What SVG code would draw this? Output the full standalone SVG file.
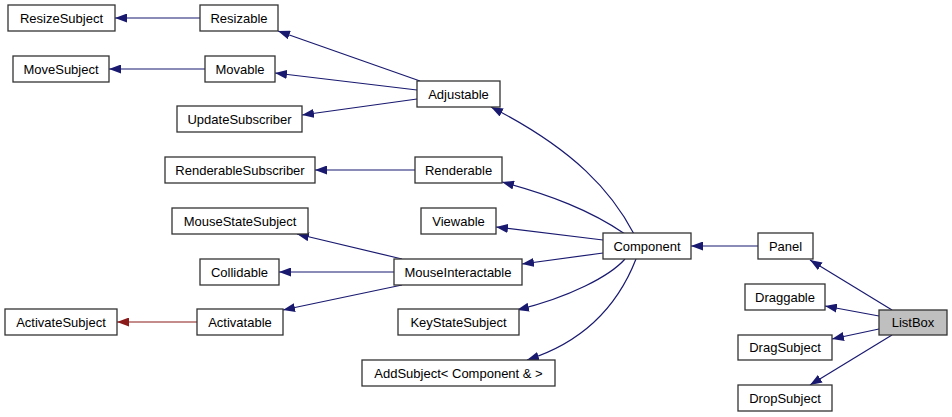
<svg xmlns="http://www.w3.org/2000/svg" width="952" height="417" viewBox="0 0 952 417">
<style>
.n rect{fill:#fff;stroke:#333;stroke-width:1.3}
.n text{font-family:"Liberation Sans",Arial,sans-serif;font-size:13px;fill:#000;text-anchor:middle}
.e path{fill:none;stroke:#191970;stroke-width:1.2;marker-end:url(#ab)}
.e path.r{stroke:#8b1a1a;marker-end:url(#ar)}
</style>
<defs>
<marker id="ab" viewBox="0 0 12 9" refX="12" refY="4.5" markerWidth="12" markerHeight="9" markerUnits="userSpaceOnUse" orient="auto"><path d="M0,0 L12,4.5 L0,9 z" fill="#191970"/></marker>
<marker id="ar" viewBox="0 0 12 9" refX="12" refY="4.5" markerWidth="12" markerHeight="9" markerUnits="userSpaceOnUse" orient="auto"><path d="M0,0 L12,4.5 L0,9 z" fill="#8b1a1a"/></marker>
</defs>
<rect width="952" height="417" fill="#fff"/>
<g id="edges" class="e">
<path d="M200,18 L115,18"/>
<path d="M205,69 L109,69"/>
<path d="M420,81 L278,31"/>
<path d="M417,90 L275,73"/>
<path d="M417,99 L302,115"/>
<path d="M634,234 C612,192 575,150 491,107"/>
<path d="M415,170 L315,170"/>
<path d="M625,234 C590,210 550,195 502,182"/>
<path d="M603,240 L496,227"/>
<path d="M603,253 L522,264"/>
<path d="M625,259 C610,276 570,297 517,310"/>
<path d="M636,259 C620,300 590,340 527,360"/>
<path d="M402,259 L297,234"/>
<path d="M394,272 L279,272"/>
<path d="M402,285 L283,310"/>
<path class="r" d="M197,322 L117,322"/>
<path d="M758,246 L691,246"/>
<path d="M892,310 L810,260"/>
<path d="M879,316 L825,306"/>
<path d="M879,329 L832,339"/>
<path d="M892,335 L810,385"/>
</g>
<g id="ResizeSubject" class="n"><rect x="8" y="5" width="107" height="26"/><text x="61.5" y="22.5">ResizeSubject</text></g>
<g id="Resizable" class="n"><rect x="200" y="5" width="78" height="26"/><text x="239" y="22.5">Resizable</text></g>
<g id="MoveSubject" class="n"><rect x="13" y="56" width="96" height="26"/><text x="61" y="73.5">MoveSubject</text></g>
<g id="Movable" class="n"><rect x="205" y="56" width="70" height="26"/><text x="240" y="73.5">Movable</text></g>
<g id="UpdateSubscriber" class="n"><rect x="177" y="106" width="125" height="26"/><text x="239.5" y="123.5">UpdateSubscriber</text></g>
<g id="Adjustable" class="n"><rect x="417" y="81" width="83" height="26"/><text x="458.5" y="98.5">Adjustable</text></g>
<g id="RenderableSubscriber" class="n"><rect x="165" y="157" width="150" height="26"/><text x="240" y="174.5">RenderableSubscriber</text></g>
<g id="Renderable" class="n"><rect x="415" y="157" width="87" height="26"/><text x="458.5" y="174.5">Renderable</text></g>
<g id="MouseStateSubject" class="n"><rect x="172" y="208" width="136" height="26"/><text x="240" y="225.5">MouseStateSubject</text></g>
<g id="Viewable" class="n"><rect x="421" y="208" width="75" height="26"/><text x="458.5" y="225.5">Viewable</text></g>
<g id="Collidable" class="n"><rect x="200" y="259" width="79" height="26"/><text x="239.5" y="276.5">Collidable</text></g>
<g id="MouseInteractable" class="n"><rect x="394" y="259" width="128" height="26"/><text x="458" y="276.5">MouseInteractable</text></g>
<g id="Component" class="n"><rect x="603" y="233" width="88" height="26"/><text x="647" y="250.5">Component</text></g>
<g id="ActivateSubject" class="n"><rect x="5" y="309" width="112" height="26"/><text x="61" y="326.5">ActivateSubject</text></g>
<g id="Activatable" class="n"><rect x="197" y="309" width="86" height="26"/><text x="240" y="326.5">Activatable</text></g>
<g id="KeyStateSubject" class="n"><rect x="398" y="309" width="121" height="26"/><text x="458.5" y="326.5">KeyStateSubject</text></g>
<g id="AddSubject" class="n"><rect x="362" y="360" width="193" height="26"/><text x="458.5" y="377.5">AddSubject&lt; Component &amp; &gt;</text></g>
<g id="Panel" class="n"><rect x="758" y="233" width="55" height="26"/><text x="785.5" y="250.5">Panel</text></g>
<g id="Draggable" class="n"><rect x="745" y="284" width="80" height="26"/><text x="785" y="301.5">Draggable</text></g>
<g id="ListBox" class="n"><rect x="879" y="310" width="68" height="25" style="fill:#bfbfbf"/><text x="913" y="327">ListBox</text></g>
<g id="DragSubject" class="n"><rect x="738" y="335" width="94" height="25"/><text x="785" y="352">DragSubject</text></g>
<g id="DropSubject" class="n"><rect x="738" y="385" width="94" height="26"/><text x="785" y="402.5">DropSubject</text></g>
</svg>
